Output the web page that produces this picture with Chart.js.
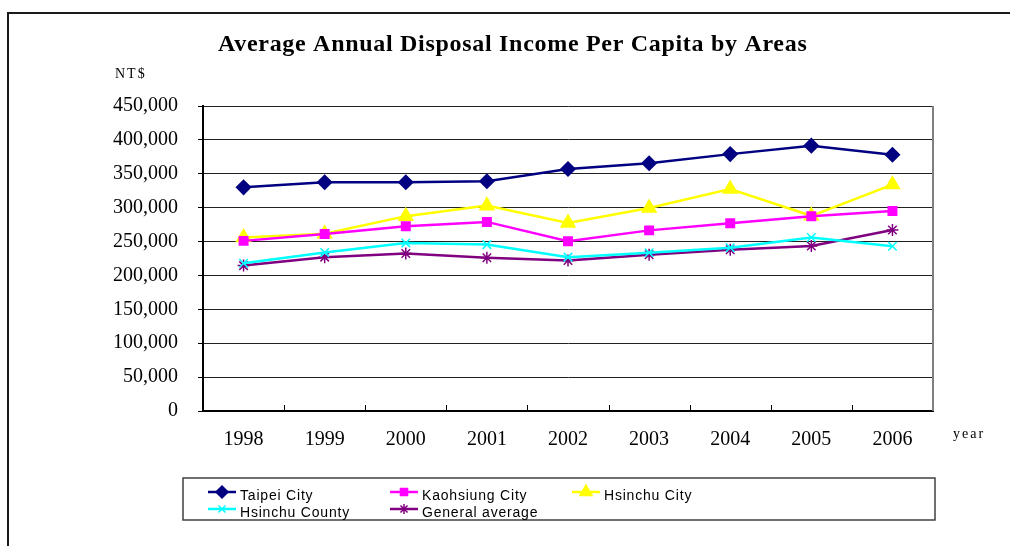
<!DOCTYPE html>
<html>
<head>
<meta charset="utf-8">
<script src="https://cdn.jsdelivr.net/npm/chart.js@4.4.1/dist/chart.umd.min.js"></script>
<style>
html,body{margin:0;padding:0;background:#fff;}
#c{display:block;}
</style>
</head>
<body>
<canvas id="c" width="1010" height="546"></canvas>
<script>
const years = ['1998','1999','2000','2001','2002','2003','2004','2005','2006'];
const taipeiCity = [330000, 337500, 337500, 339000, 357000, 365500, 379000, 391500, 378000];
const kaohsiungCity = [251000, 261000, 272500, 279000, 250500, 266500, 277000, 287500, 295000];
const hsinchuCity = [256000, 261500, 287500, 303000, 277500, 299500, 327500, 288000, 334000];
const hsinchuCounty = [218000, 234000, 248000, 245500, 227000, 233500, 241000, 256000, 243000];
const generalAverage = [214500, 227000, 232500, 226000, 222000, 230500, 238000, 243500, 267000];
const yTicks = [0, 50000, 100000, 150000, 200000, 250000, 300000, 350000, 400000, 450000];

const serif = '"Liberation Serif", "Times New Roman", serif';
const sans = '"Liberation Sans", Arial, sans-serif';

function ds(label, data, color, style, radius) {
  return {
    label, data,
    borderColor: color, backgroundColor: color,
    pointBackgroundColor: color, pointBorderColor: color,
    pointStyle: style, pointRadius: radius, pointHoverRadius: radius,
    pointBorderWidth: 1.5,
    borderWidth: 2.5, tension: 0, fill: false
  };
}

const decor = {
  id: 'decor',
  beforeDraw(chart) {
    const ctx = chart.ctx;
    ctx.save();
    ctx.fillStyle = '#fff';
    ctx.fillRect(0, 0, chart.width, chart.height);
    ctx.strokeStyle = '#1a1a1a';
    ctx.lineWidth = 2;
    ctx.beginPath();
    ctx.moveTo(1012, 13);
    ctx.lineTo(8, 13);
    ctx.lineTo(8, 550);
    ctx.stroke();
    ctx.restore();
  },
  afterDraw(chart) {
    const ctx = chart.ctx;
    const a = chart.chartArea;
    const xs = chart.scales.x;
    ctx.save();
    ctx.strokeStyle = '#808080';
    ctx.lineWidth = 2;
    ctx.beginPath();
    ctx.moveTo(a.right, a.top);
    ctx.lineTo(a.right, a.bottom);
    ctx.stroke();
    ctx.strokeStyle = '#000';
    ctx.lineWidth = 1;
    for (let i = 1; i < years.length; i++) {
      const x = Math.round((xs.getPixelForValue(i - 1) + xs.getPixelForValue(i)) / 2) + 0.5;
      ctx.beginPath();
      ctx.moveTo(x, a.bottom);
      ctx.lineTo(x, a.bottom - 6);
      ctx.stroke();
    }
    ctx.fillStyle = '#000';
    ctx.textBaseline = 'middle';
    ctx.textAlign = 'left';
    ctx.font = 'bold 24px ' + serif;
    ctx.letterSpacing = '0.7px';
    ctx.fillText('Average Annual Disposal Income Per Capita by Areas', 218, 45);
    ctx.font = '14px ' + serif;
    ctx.letterSpacing = '2px';
    ctx.fillText('NT$', 115, 74);
    ctx.fillText('year', 953, 434);
    ctx.letterSpacing = '0px';
    ctx.strokeStyle = '#404040';
    ctx.lineWidth = 1.5;
    ctx.strokeRect(183, 478, 752, 42);
    const pos = [
      [208, 492], [390, 492], [572, 492],
      [208, 509], [390, 509]
    ];
    chart.data.datasets.forEach((d, i) => {
      const [x, y] = pos[i];
      ctx.strokeStyle = d.borderColor;
      ctx.fillStyle = d.borderColor;
      ctx.lineWidth = 2.5;
      ctx.beginPath();
      ctx.moveTo(x, y);
      ctx.lineTo(x + 28, y);
      ctx.stroke();
      ctx.lineWidth = 1.5;
      Chart.helpers.drawPoint(ctx, {pointStyle: d.pointStyle, radius: d.pointRadius - 1, borderWidth: 1.5, rotation: 0}, x + 14, y);
      ctx.fillStyle = '#000';
      ctx.textAlign = 'left';
      ctx.font = '14px ' + sans;
      ctx.letterSpacing = '0.8px';
      ctx.fillText(d.label, x + 32, y + 4);
      ctx.letterSpacing = '0px';
    });
    ctx.restore();
  }
};

new Chart(document.getElementById('c'), {
  type: 'line',
  data: {
    labels: years,
    datasets: [
      ds('Taipei City', taipeiCity, '#000080', 'rectRot', 7),
      ds('Kaohsiung City', kaohsiungCity, '#FF00FF', 'rect', 6),
      ds('Hsinchu City', hsinchuCity, '#FFFF00', 'triangle', 8),
      ds('Hsinchu County', hsinchuCounty, '#00FFFF', 'crossRot', 6),
      ds('General average', generalAverage, '#800080', 'star', 6)
    ]
  },
  options: {
    responsive: false,
    animation: false,
    events: [],
    layout: { padding: { left: 8, right: 77, top: 106, bottom: 95 } },
    plugins: { legend: { display: false }, title: { display: false }, tooltip: { enabled: false } },
    scales: {
      x: {
        type: 'category',
        offset: true,
        grid: { display: false, drawTicks: false },
        border: { display: true, color: '#000', width: 2 },
        ticks: { color: '#000', font: { family: serif, size: 20 }, padding: 17, maxRotation: 0 },
        afterFit(s) { s.height = 40; }
      },
      y: {
        min: 0, max: 450000,
        afterBuildTicks(s) { s.ticks = yTicks.map(v => ({ value: v })); },
        grid: { color: '#222', lineWidth: 1, tickLength: 5, drawTicks: true, tickColor: '#000' },
        border: { display: true, color: '#000', width: 2 },
        ticks: {
          color: '#000', font: { family: serif, size: 20 }, padding: 20,
          callback: v => v.toLocaleString('en-US')
        },
        afterFit(s) { s.width = 195; }
      }
    }
  },
  plugins: [decor]
});
</script>
</body>
</html>
